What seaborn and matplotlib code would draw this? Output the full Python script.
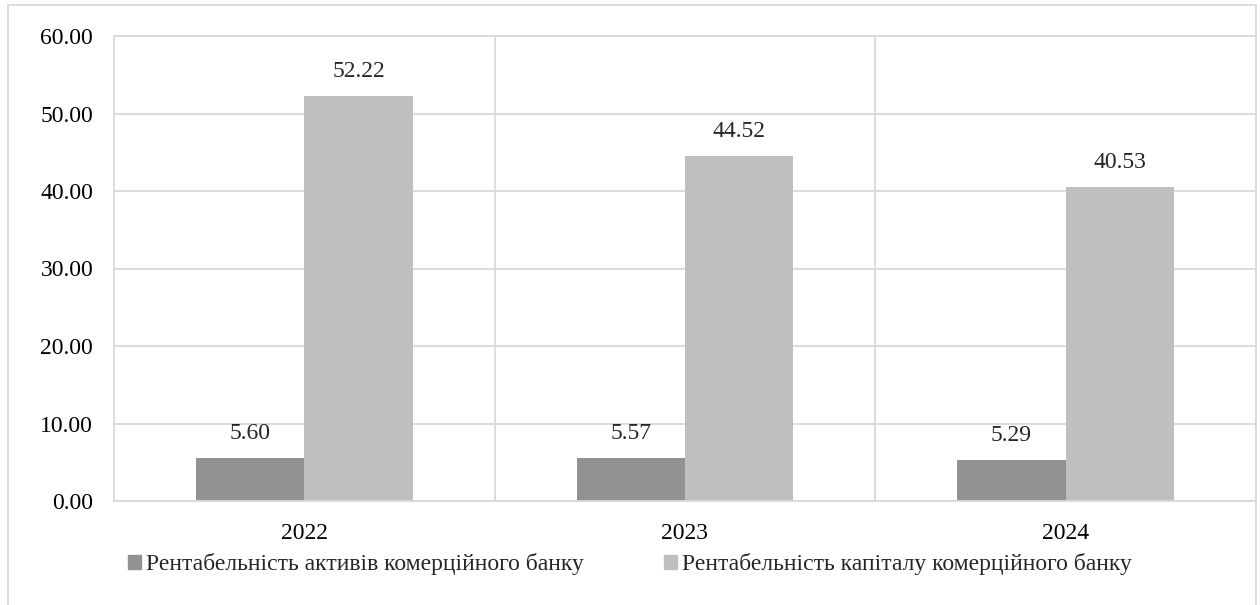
import pandas as pd
import seaborn as sns
import matplotlib.pyplot as plt
from matplotlib.lines import Line2D

years = ["2022", "2023", "2024"]
roa = [5.60, 5.57, 5.29]
roe = [52.22, 44.52, 40.53]
series_names = ["Рентабельність активів комерційного банку",
                "Рентабельність капіталу комерційного банку"]
y_ticks = [0, 10, 20, 30, 40, 50, 60]

df = pd.DataFrame({
    "year": years * 2,
    "value": roa + roe,
    "series": [series_names[0]] * 3 + [series_names[1]] * 3,
})

sns.set_style("white")
plt.rcParams["font.family"] = ["Liberation Serif", "DejaVu Serif"]

grid_color = "#d9d9d9"
bar_colors = ["#929292", "#bfbfbf"]
fs = 17

fig = plt.figure(figsize=(12.6, 6.05), dpi=100)
ax = fig.add_axes([114 / 1260, 1 - 501 / 605, (1256 - 114) / 1260, (501 - 36) / 605])

sns.barplot(data=df, x="year", y="value", hue="series", ax=ax,
            palette=bar_colors, width=0.57, gap=0, linewidth=0,
            saturation=1, legend=False)

ax.set_ylim(0, 60)
ax.set_xlim(-0.5, 2.5)
ax.set_yticks(y_ticks)
ax.set_yticklabels([f"{v:.2f}" for v in y_ticks])
ax.set_xlabel("")
ax.set_ylabel("")
ax.tick_params(axis="both", length=0, labelsize=fs, colors="black")
ax.tick_params(axis="y", pad=15)
ax.tick_params(axis="x", pad=16)

# horizontal grid + category separators
for v in y_ticks:
    ax.axhline(v, color=grid_color, lw=1.3, zorder=0)
for xv in [0.5, 1.5]:
    ax.axvline(xv, color=grid_color, lw=1.3, zorder=0)
for side in ["left", "bottom", "right", "top"]:
    ax.spines[side].set_color(grid_color)
    ax.spines[side].set_linewidth(1.3)

for container in ax.containers:
    ax.bar_label(container, fmt="%.2f", padding=10, fontsize=fs)

# figure border
fig.add_artist(Line2D([8 / 1260, 1256 / 1260], [1 - 5 / 605, 1 - 5 / 605],
                      transform=fig.transFigure, color=grid_color, lw=1.3))
fig.add_artist(Line2D([8 / 1260, 8 / 1260], [0, 1 - 5 / 605],
                      transform=fig.transFigure, color=grid_color, lw=1.3))
fig.add_artist(Line2D([1256 / 1260, 1256 / 1260], [0, 1 - 5 / 605],
                      transform=fig.transFigure, color=grid_color, lw=1.3))

handles = [plt.Rectangle((0, 0), 1, 1, color=c) for c in bar_colors]
fig.legend(handles, series_names, loc="center", bbox_to_anchor=(630 / 1260, 1 - 564 / 605),
           ncol=2, frameon=False, fontsize=fs, handlelength=0.55, handleheight=0.55,
           handletextpad=0.2, columnspacing=3.4)

fig.savefig("out.png", dpi=100)
